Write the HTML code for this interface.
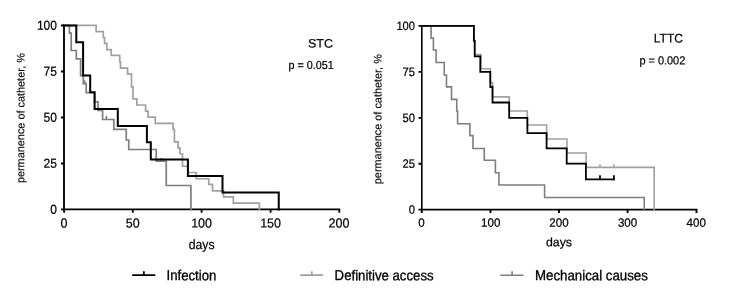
<!DOCTYPE html>
<html><head><meta charset="utf-8"><title>Permanence of catheter</title>
<style>
html,body{margin:0;padding:0;background:#fff;}
body{width:736px;height:289px;overflow:hidden;}
svg{display:block;}
text{font-family:"Liberation Sans",Arial,sans-serif;text-rendering:geometricPrecision;fill:#000;stroke:#000;stroke-width:0.22px;}
.ax{stroke:#000;stroke-width:1.85;fill:none;stroke-linecap:square;}
.tk{stroke:#000;stroke-width:1.8;fill:none;}
.bk{stroke:#000;stroke-width:2.0;fill:none;stroke-linejoin:miter;stroke-linecap:square;}
.lg{stroke:#a0a0a0;stroke-width:1.7;fill:none;stroke-linejoin:miter;}
.mg{stroke:#7e7e7e;stroke-width:1.7;fill:none;stroke-linejoin:miter;}
#right .bk{stroke-width:1.78}#right .lg,#right .mg{stroke-width:1.6}#right .ax{stroke-width:1.6}#right .tk{stroke-width:1.9}
</style></head><body>
<svg width="736" height="289" viewBox="0 0 736 289">
<rect width="736" height="289" fill="#fff"/>

<!-- LEFT CHART: STC -->
<g id="left">
<path class="ax" d="M64.0,25.4 V209.4 H339.3"/>
<path class="tk" d="M61,25.5 H64 M61,71.5 H64 M61,117.5 H64 M61,163.5 H64 M61,209.4 H64 M64.1,209.4 V212.8 M132.8,209.4 V212.8 M201.6,209.4 V212.8 M270.6,209.4 V212.8 M339.3,209.4 V212.8"/>
<path class="lg" d="M64.2,25.4 H96.1 V31.6 H103.3 V37.6 H104.6 V43.4 H106.8 V49.6 H111.25 V55.4 H119.75 V61.9 H120.5 V68.2 H127.6 V74.2 H131.5 V86.8 H133 V98.9 H136.9 V105 H145.6 V111.2 H148.1 V117.1 H155.25 V123.4 H173.1 V129.4 H174.4 V141.9 H178.1 V148.1 H180 V153.75 H182.5 V166.25 H187.9 V172.5 H196.25 V178.75 H208.75 V184.4 H212.5 V190.8 H223.5 V196.9 H233.3 V203.1 H259.4 V210.3"/>
<path class="mg" d="M64.2,25.4 H69.4 V33.1 H71.2 V50.5 H76.3 V58.9 H80.6 V75.6 H83.3 V83.7 H86.2 V92.6 H94.6 V101.8 H98 V110.4 H102.6 V119.5 H113.8 V129.4 H126.25 V140 H128.75 V149.5 H156.25 V161.1 H166.25 V185.5 H190.9 V210.3"/>
<path class="mg" d="M84.7,80.4 V83.7 M106.4,116 V119.5 M161.25,158 V161.1"/>
<path class="bk" d="M64.2,25.4 H76.3 V42.2 H83.1 V75.6 H90.2 V92.2 H94.6 V109 H117.8 V125.9 H146.9 V142.3 H150.8 V159.4 H187.9 V175.9 H222.5 V192.6 H278.75 V209.6"/>
<text transform="translate(57.0,29.8) rotate(0.1) scale(0.93,1)" font-size="12.95" text-anchor="end">100</text>
<text transform="translate(57.0,75.8) rotate(0.1) scale(0.93,1)" font-size="12.95" text-anchor="end">75</text>
<text transform="translate(57.0,121.8) rotate(0.1) scale(0.93,1)" font-size="12.95" text-anchor="end">50</text>
<text transform="translate(57.0,167.8) rotate(0.1) scale(0.93,1)" font-size="12.95" text-anchor="end">25</text>
<text transform="translate(57.0,213.8) rotate(0.1) scale(0.93,1)" font-size="12.95" text-anchor="end">0</text>
<text transform="translate(64.1,227.5) rotate(0.1) scale(0.955,1)" font-size="13.1" text-anchor="middle">0</text>
<text transform="translate(132.8,227.5) rotate(0.1) scale(0.955,1)" font-size="13.1" text-anchor="middle">50</text>
<text transform="translate(201.6,227.5) rotate(0.1) scale(0.955,1)" font-size="13.1" text-anchor="middle">100</text>
<text transform="translate(270.6,227.5) rotate(0.1) scale(0.955,1)" font-size="13.1" text-anchor="middle">150</text>
<text transform="translate(339.0,227.5) rotate(0.1) scale(0.955,1)" font-size="13.1" text-anchor="middle">200</text>
<text transform="translate(201.6,249.0) rotate(0.1) scale(0.92,1)" font-size="13.3" text-anchor="middle">days</text>
<text transform="translate(24.3,183.1) rotate(-89.92) scale(0.989,1)" font-size="11" style="stroke-width:0.12px">permanence of catheter, %</text>
<text transform="translate(307.9,47.4) rotate(0.1) scale(1.026,1)" font-size="12.2">STC</text>
<text transform="translate(288.6,69.05) rotate(0.1) scale(0.928,1)" font-size="11.6">p = 0.051</text>
</g>

<!-- RIGHT CHART: LTTC -->
<g id="right">
<path class="ax" d="M421.8,25.9 V209.6 H696.5"/>
<path class="tk" d="M418.5,25.9 H421.5 M418.5,71.9 H421.5 M418.5,117.9 H421.5 M418.5,163.8 H421.5 M418.5,209.6 H421.5 M421.8,209.6 V212.9 M490.5,209.6 V212.9 M559,209.6 V212.9 M627.6,209.6 V212.9 M696.5,209.6 V212.9"/>
<path class="lg" d="M421.9,25.9 H473.9 V40 H474.7 V54.6 H481.0 V68.8 H490.3 V82.5 H492.6 V96.9 H509.2 V111 H527.3 V125 H546.6 V139 H566.9 V153.0 H586.1 V167.4 H654.2 V210.4"/>
<path class="lg" d="M600,164.3 V167.4 M613.9,164.3 V167.4"/>
<path class="mg" d="M421.9,25.9 H431.1 V38.1 H433.4 V50 H436.1 V62.5 H444.25 V75 H446.5 V86.9 H451.5 V99.4 H456.75 V111 H457.6 V123.75 H469.9 V135.6 H473 V148.5 H484.25 V160.25 H495.4 V172.75 H498.9 V185 H544.6 V197.5 H644.25 V210.4"/>
<path class="bk" d="M421.9,25.9 H473.9 V40.9 H474.7 V56.4 H480.3 V71.9 H490.3 V87 H492.5 V102.5 H509.2 V117.8 H527.4 V133.1 H546.6 V148.3 H566.7 V163.7 H585.9 V179.4 H614.0"/>
<path class="bk" d="M600,175.3 V179.4 M613.9,175.3 V180.3" style="stroke-linecap:butt"/>
<text transform="translate(415,30.05) rotate(0.1) scale(0.925,1)" font-size="12.05" text-anchor="end">100</text>
<text transform="translate(415,75.95) rotate(0.1) scale(0.925,1)" font-size="12.05" text-anchor="end">75</text>
<text transform="translate(415,121.9) rotate(0.1) scale(0.925,1)" font-size="12.05" text-anchor="end">50</text>
<text transform="translate(415,167.85) rotate(0.1) scale(0.925,1)" font-size="12.05" text-anchor="end">25</text>
<text transform="translate(415,213.75) rotate(0.1) scale(0.925,1)" font-size="12.05" text-anchor="end">0</text>
<text transform="translate(421.5,226.7) rotate(0.1) scale(0.96,1)" font-size="12.05" text-anchor="middle">0</text>
<text transform="translate(490.75,226.7) rotate(0.1) scale(0.96,1)" font-size="12.05" text-anchor="middle">100</text>
<text transform="translate(558.95,226.7) rotate(0.1) scale(0.96,1)" font-size="12.05" text-anchor="middle">200</text>
<text transform="translate(627.55,226.7) rotate(0.1) scale(0.96,1)" font-size="12.05" text-anchor="middle">300</text>
<text transform="translate(696.25,226.7) rotate(0.1) scale(0.96,1)" font-size="12.05" text-anchor="middle">400</text>
<text transform="translate(546,246.3) rotate(0.1) scale(1.01,1)" font-size="12.2">days</text>
<text transform="translate(381.3,184.2) rotate(-89.92) scale(0.989,1)" font-size="11" style="stroke-width:0.12px">permanence of catheter, %</text>
<text transform="translate(653.8,42.5) rotate(0.1) scale(0.963,1)" font-size="12.5">LTTC</text>
<text transform="translate(639.4,64.5) rotate(0.1) scale(0.9175,1)" font-size="11.9">p = 0.002</text>
</g>

<!-- LEGEND -->
<g id="legend">
<path class="bk" d="M132.2,275.15 H155.3 M143.85,271.2 V275.15" style="stroke-linecap:butt;stroke-width:1.8"/>
<path class="lg" d="M300.1,275.15 H323.1 M311.8,271.2 V275.15"/>
<path class="mg" d="M500.3,275.25 H523.6 M512.1,271.2 V275.25"/>
<text transform="translate(166.6,280.1) rotate(0.1) scale(0.927,1)" font-size="14.2" style="stroke-width:0.33px">Infection</text>
<text transform="translate(334.6,280.1) rotate(0.1) scale(0.93,1)" font-size="14.2" style="stroke-width:0.33px">Definitive access</text>
<text transform="translate(535,280.1) rotate(0.1) scale(0.935,1)" font-size="14.2" style="stroke-width:0.33px">Mechanical causes</text>
</g>
</svg>
</body></html>
